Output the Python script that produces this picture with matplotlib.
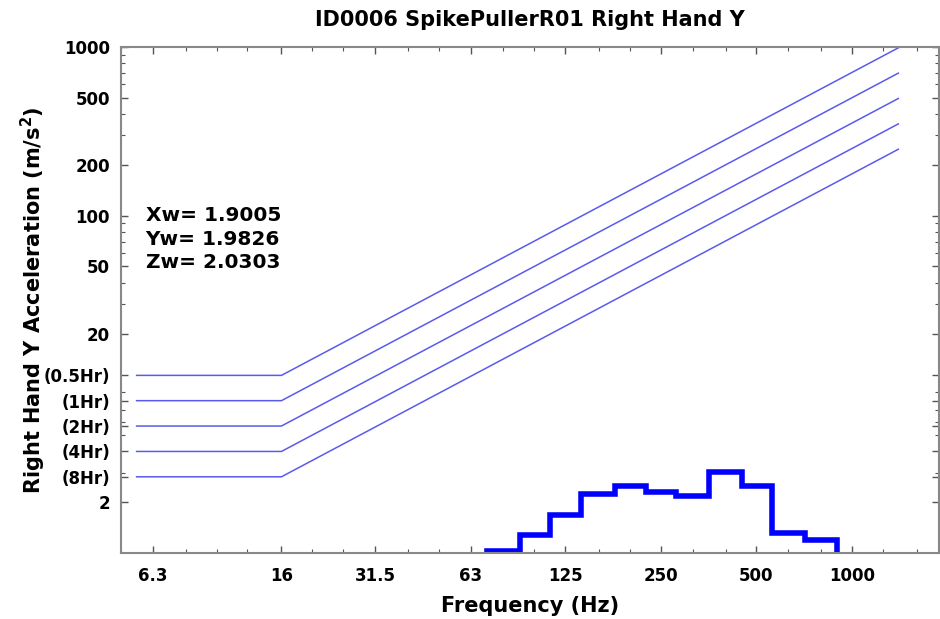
import numpy as np
import matplotlib.pyplot as plt
from matplotlib.ticker import FixedLocator, NullFormatter, LogLocator

plt.rcParams['font.family'] = ['DejaVu Sans']
plt.rcParams['font.weight'] = 'bold'
plt.rcParams['mathtext.default'] = 'bf'

# exposure limit lines (ISO 5349 style): flat below 16 Hz, rising above
limit_labels = ['(0.5Hr)', '(1Hr)', '(2Hr)', '(4Hr)', '(8Hr)']
limit_values = [11.3, 8.0, 5.66, 4.0, 2.83]
f_start = 5.6
f_knee = 16
f_end = 1400

# measured 1/3-octave spectrum (band edges and levels)
band_edges = [71, 90, 112, 140, 180, 224, 280, 355, 450, 560, 710, 900, 1120]
band_values = [1.03, 1.28, 1.68, 2.23, 2.49, 2.29, 2.17, 3.01, 2.49, 1.31, 1.19, 0.8]

x_ticks = [6.3, 16, 31.5, 63, 125, 250, 500, 1000]
x_ticklabels = ['6.3', '16', '31.5', '63', '125', '250', '500', '1000']
x_minor = [5, 8, 10, 12.5, 20, 25, 40, 50, 80, 100, 160, 200, 315, 400,
           630, 800, 1250, 1600]
y_ticks = [2, 20, 50, 100, 200, 500, 1000]
y_ticklabels = ['2', '20', '50', '100', '200', '500', '1000']

wvalues = ['Xw= 1.9005', 'Yw= 1.9826', 'Zw= 2.0303']

W, H = 940, 619
fig = plt.figure(figsize=(W / 100, H / 100), dpi=100)
ax = fig.add_axes([121 / W, (H - 553) / H, (939 - 121) / W, (553 - 47) / H])
ax.set_xscale('log')
ax.set_yscale('log')
ax.set_xlim(5, 1880)
ax.set_ylim(1, 1000)

for v in limit_values:
    ax.plot([f_start, f_knee, f_end], [v, v, v * f_end / f_knee],
            color='#5a5aee', lw=1.1)

# step curve
xs = [band_edges[0]]
ys = [band_values[0]]
for i, v in enumerate(band_values):
    xs += [band_edges[i], band_edges[i + 1]]
    ys += [v, v]
ax.plot(xs, ys, color='#0000ff', lw=4, solid_joinstyle='miter')

ax.set_xticks(x_ticks)
ax.set_xticklabels(x_ticklabels)
ax.xaxis.set_minor_locator(FixedLocator(x_minor))
ax.xaxis.set_minor_formatter(NullFormatter())

ax.set_yticks(y_ticks + limit_values)
ax.set_yticklabels(y_ticklabels + limit_labels)
ax.yaxis.set_minor_locator(LogLocator(base=10, subs=np.arange(2, 10)))
ax.yaxis.set_minor_formatter(NullFormatter())

ax.tick_params(which='both', direction='in', top=True, right=True,
               labelsize=12, color='#555555')
ax.tick_params(which='major', length=5, width=1)
ax.tick_params(which='minor', length=3, width=0.8)
ax.tick_params(axis='x', pad=10)
ax.tick_params(axis='y', pad=8)
for s in ax.spines.values():
    s.set_color('#888888')
    s.set_linewidth(1.5)

ax.set_xlabel('Frequency (Hz)', fontsize=15, fontweight='bold', labelpad=8)
ax.set_ylabel('Right Hand Y Acceleration (m/s$^2$)', fontsize=15,
              fontweight='bold', labelpad=-3)
ax.set_title('ID0006 SpikePullerR01 Right Hand Y', fontsize=15,
             fontweight='bold', pad=15)

ax.text(0.03, 0.685, '\n'.join(wvalues), transform=ax.transAxes,
        fontsize=14.5, fontweight='bold', va='top', ha='left', linespacing=1.3)

fig.savefig('out.png', dpi=100)
